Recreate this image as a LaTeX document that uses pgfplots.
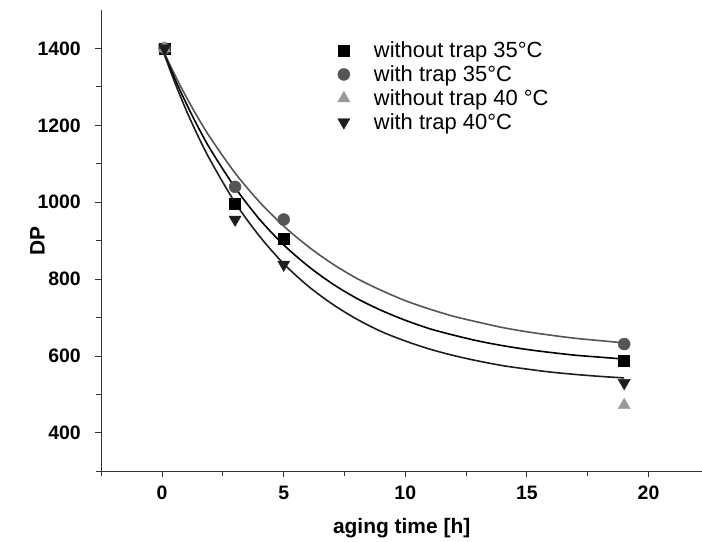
\documentclass[border=0pt]{standalone}
\usepackage{pgfplots}
\pgfplotsset{compat=1.18}
\usepackage{fontspec}
\setmainfont{Liberation Sans}
\definecolor{cgrey}{HTML}{555555}
\definecolor{clight}{HTML}{999999}
\definecolor{cdark}{HTML}{1E1E1E}
\begin{document}
\begin{tikzpicture}
\useasboundingbox (-101.25bp,-70bp) rectangle (600.25bp,471bp);
\begin{axis}[
  at={(0,0)}, anchor=south west,
  scale only axis,
  width=600.25bp, height=461bp,
  xmin=-2.5, xmax=22.2,
  ymin=300, ymax=1500,
  axis x line*=bottom, axis y line*=left,
  axis line style={-, line width=1.1bp, black!80},
  xtick={0,5,10,15,20},
  minor xtick={-2.5,2.5,7.5,12.5,17.5,22.5},
  ytick={400,600,800,1000,1200,1400},
  minor ytick={300,500,700,900,1100,1300},
  tick align=outside,
  major tick length=6bp, minor tick length=5bp,
  every tick/.style={black!80, line width=0.9bp},
  /pgf/number format/assume math mode=true,
  /pgf/number format/1000 sep={},
  tick label style={font=\fontsize{19.5}{23}\selectfont\bfseries},
  xticklabel style={yshift=-5bp},
  yticklabel style={xshift=-11bp},
  xlabel={aging time [h]},
  ylabel={DP},
  label style={font=\fontsize{21}{24}\selectfont\bfseries},
  xlabel style={yshift=-12bp},
  ylabel style={yshift=-14bp},
  clip=false,
  legend style={draw=none, fill=none, at={(0.39,0.94)}, anchor=north west,
    font=\fontsize{22}{24}\selectfont, row sep=2.5bp, column sep=22bp, inner sep=2bp},
  legend cell align=left,
]
% fitted curves
\addplot[forget plot, cgrey, line width=1.6bp, smooth] coordinates {
 (0,1400) (0.5,1334) (1,1273) (1.5,1217) (2,1166) (3,1076) (4,1001) (5,938)
 (6,885) (7,840) (8,802) (9,771) (10,744) (11,722) (12,703) (13,688)
 (14,674) (15,663) (16,654) (17,646) (18,640) (19,634)};
\addplot[forget plot, black, line width=1.6bp, smooth] coordinates {
 (0,1400) (0.5,1324) (1,1256) (1.5,1193) (2,1136) (3,1038) (4,956) (5,889)
 (6,834) (7,788) (8,750) (9,719) (10,693) (11,671) (12,654) (13,639)
 (14,627) (15,617) (16,609) (17,602) (18,597) (19,592)};
\addplot[forget plot, cdark, line width=1.6bp, smooth] coordinates {
 (0,1400) (0.5,1315) (1,1238) (1.5,1169) (2,1107) (3,999) (4,912) (5,840)
 (6,782) (7,735) (8,696) (9,664) (10,639) (11,618) (12,601) (13,587)
 (14,575) (15,566) (16,558) (17,552) (18,547) (19,543)};
% data points
\addplot[only marks, mark=square*, mark size=5.5bp, black, mark options={fill=black}]
 coordinates {(0.1,1400) (3,997) (5,906) (19,588)};
\addlegendentry{without trap 35°C}
\addplot[only marks, mark=*, mark size=6bp, cgrey, mark options={fill=cgrey}]
 coordinates {(0.1,1400) (3,1040) (5,955) (19,631)};
\addlegendentry{with trap 35°C}
\addplot[only marks, mark=triangle*, mark size=7bp, clight, mark options={fill=clight}]
 coordinates {(0.1,1400) (19,472)};
\addlegendentry{without trap 40 °C}
\addplot[only marks, mark=triangle*, mark size=7bp, cdark, mark options={fill=cdark, rotate=180}]
 coordinates {(0.1,1400) (3,955) (5,838) (19,530)};
\addlegendentry{with trap 40°C}
\end{axis}
\end{tikzpicture}
\end{document}
